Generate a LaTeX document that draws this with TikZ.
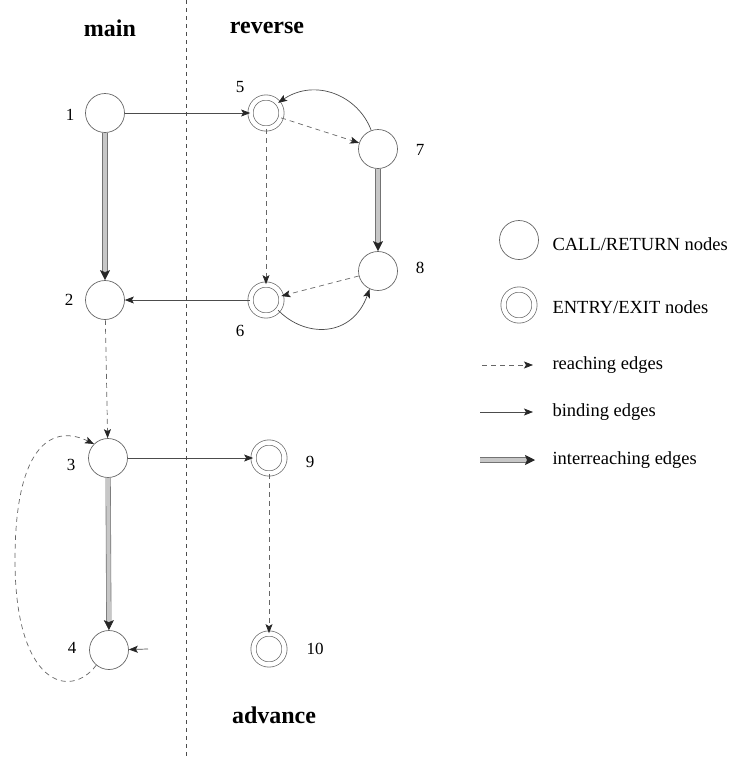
\documentclass[tikz,border=0pt]{standalone}
\usepackage{fontspec}
\setmainfont{Liberation Serif}
\usetikzlibrary{arrows.meta}
\begin{document}
\begin{tikzpicture}[x=1pt,y=-1pt,
  crnode/.style={circle,draw=black!60,line width=0.7pt,minimum size=39pt,inner sep=0pt},
  eenode/.style={circle,draw=black!60,line width=0.7pt,minimum size=31pt,inner sep=0pt,double=white,double distance=4.5pt},
  lbl/.style={font=\fontsize{17}{17}\selectfont},
  title/.style={font=\fontsize{24}{24}\selectfont\bfseries},
  legtxt/.style={font=\fontsize{18.5}{18.5}\selectfont,anchor=west},
  tip/.style={-{Stealth[length=9pt,width=7pt,inset=2pt,color=black!85]}},
  reaching/.style={tip,draw=black!60,line width=0.7pt,dash pattern=on 5pt off 4pt},
  binding/.style={tip,draw=black!70,line width=0.7pt},
  interreach/.style={-{Stealth[length=10pt,width=10pt,inset=2pt,color=black!85]},draw=black!55,line width=0.6pt,double=black!22,double distance=4pt},
  divider/.style={draw=black!70,line width=0.6pt,dash pattern=on 4pt off 4pt}]
\useasboundingbox (0,0) rectangle (733,758);

% column titles and divider
\draw[divider] (186,0) -- (186,758);
\node[title] (tmain) at (110,28) {main};
\node[title] (trev) at (267,28) {reverse};
\node[title] (tadv) at (274,715) {advance};

% CALL/RETURN nodes
\node[crnode] (n1) at (105,113) {};
\node[crnode] (n2) at (105,300) {};
\node[crnode] (n3) at (108,458) {};
\node[crnode] (n4) at (109,650) {};
\node[crnode] (n7) at (378,149) {};
\node[crnode] (n8) at (378,271) {};
% ENTRY/EXIT nodes
\node[eenode] (n5) at (266,113) {};
\node[eenode] (n6) at (266,300) {};
\node[eenode] (n9) at (269,458) {};
\node[eenode] (n10) at (269,649) {};

% node numbers
\node[lbl] (l1) at (70,115) {1};
\node[lbl] (l2) at (69,300) {2};
\node[lbl] (l3) at (71,465) {3};
\node[lbl] (l4) at (72,648) {4};
\node[lbl] (l5) at (240,87) {5};
\node[lbl] (l6) at (240,331) {6};
\node[lbl] (l7) at (420,150) {7};
\node[lbl] (l8) at (420,268) {8};
\node[lbl] (l9) at (310,462) {9};
\node[lbl] (l10) at (315,649) {10};

% binding edges
\draw[binding] (n1) -- (n5);
\draw[binding] (n6) -- (n2);
\draw[binding] (n3) -- (n9);
\coordinate (stub4) at (148,649);
\draw[binding] (stub4) -- (n4);
\draw[binding] (n7.110) .. controls (358,95) and (315,78) .. (n5.40);
\draw[binding] (n6.-40) .. controls (305,338) and (352,338) .. (n8.-115);

% reaching edges
\draw[reaching] (n5) -- (n7);
\draw[reaching] (n5) -- (n6);
\draw[reaching] (n8) -- (n6);
\draw[reaching] (n2) -- (n3);
\draw[reaching] (n9) -- (n10);
\draw[reaching] (n4.-130) .. controls (70,700) and (15,685) .. (15,560)
  .. controls (15,440) and (55,425) .. (n3.135);

% interreaching edges
\draw[interreach] (n1) -- (n2);
\draw[interreach] (n3) -- (n4);
\draw[interreach] (n7) -- (n8);

% legend
\node[crnode] (k1) at (519,240) {};
\node[legtxt] (k1t) at (549,244) {CALL/RETURN nodes};
\node[eenode] (k2) at (519,305) {};
\node[legtxt] (k2t) at (549,307) {ENTRY/EXIT nodes};
\coordinate (k3a) at (482,365);
\coordinate (k3b) at (533,365);
\draw[reaching] (k3a) -- (k3b);
\node[legtxt] (k3t) at (549,365) {reaching edges};
\coordinate (k4a) at (480,412);
\coordinate (k4b) at (533,412);
\draw[binding] (k4a) -- (k4b);
\node[legtxt] (k4t) at (549,412) {binding edges};
\coordinate (k5a) at (480,460);
\coordinate (k5b) at (535,460);
\draw[interreach] (k5a) -- (k5b);
\node[legtxt] (k5t) at (549,460) {interreaching edges};
\end{tikzpicture}
\end{document}
